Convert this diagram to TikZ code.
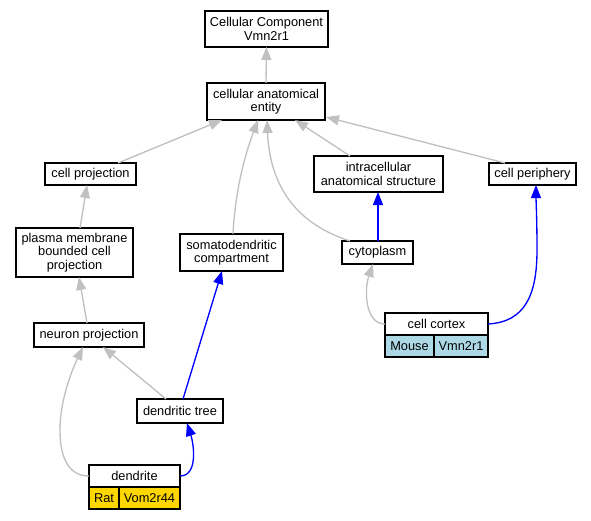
\documentclass[tikz,border=0pt]{standalone}
\usepackage{fontspec}
\setmainfont{Liberation Sans}
\usetikzlibrary{arrows.meta,calc}
\definecolor{edgegray}{RGB}{192,192,192}
\definecolor{edgeblue}{RGB}{0,0,255}
\definecolor{ratgold}{RGB}{255,215,0}
\definecolor{mouseblue}{RGB}{173,216,230}
\tikzset{
  box/.style={draw=black, line width=1pt, fill=white, inner sep=0pt, outer sep=0pt, align=center,
    font=\fontsize{9.6}{10.2}\selectfont},
  sz/.style 2 args={minimum width=#1*0.75pt, minimum height=#2*0.75pt},
  isa/.style={draw=edgegray, line width=1pt, -{Triangle[length=9.75pt,width=7.5pt]}},
  partof/.style={draw=edgeblue, line width=1pt, -{Triangle[length=9.75pt,width=7.5pt]}},
}
\begin{document}
\begin{tikzpicture}[x=0.75pt,y=-0.75pt]
\useasboundingbox (0,0) rectangle (591,520);
% nodes
\node[box, sz={123}{36}] (cc) at (266.5,29) {Cellular Component\\Vmn2r1};
\node[box, sz={118}{37}] (cae) at (266,101.5) {cellular anatomical\\entity};
\node[box, sz={91}{22}] (cp) at (90.5,174) {cell projection};
\node[box, sz={117}{49}] (pm) at (74.5,252.5) {plasma membrane\\bounded cell\\projection};
\node[box, sz={103}{37}] (sd) at (231.5,252.5) {somatodendritic\\compartment};
\node[box, sz={110}{24}] (np) at (89,335) {neuron projection};
\node[box, sz={86}{24}] (dt) at (180,411) {dendritic tree};
\node[box, sz={129}{36}] (ias) at (378.5,174) {intracellular\\anatomical structure};
\node[box, sz={87}{22}] (cper) at (532.5,174) {cell periphery};
\node[box, sz={71}{23}] (cyt) at (377.5,252.5) {cytoplasm};
% dendrite table
\node[box, sz={91}{22}] (dh) at (134.5,476) {dendrite};
\node[box, sz={30}{22}, fill=ratgold] (rat) at (104,498) {Rat};
\node[box, sz={61}{22}, fill=ratgold] (vom) at (149.5,498) {Vom2r44};
% cell cortex table
\node[box, sz={103}{22}] (ch) at (436.5,324) {cell cortex};
\node[box, sz={49}{22}, fill=mouseblue] (mouse) at (409.5,346) {Mouse};
\node[box, sz={54}{22}, fill=mouseblue] (vmn) at (461,346) {Vmn2r1};
% edges
\draw[isa] (cae.north) -- (cc.south);
\draw[isa] ($(cp.north)+(27.5,0)$) -- ($(cae.south)+(-44,0)$);
\draw[isa] ($(sd.north)+(1.5,0)$) .. controls (235,195) and (243,160) .. ($(cae.south)+(-8,0)$);
\draw[isa] ($(cyt.north)+(-27.5,0)$) .. controls (300,225) and (270,190) .. ($(cae.south)+(1,0)$);
\draw[isa] ($(ias.north)+(-28.5,0)$) -- ($(cae.south)+(29,0)$);
\draw[isa] ($(cper.north)+(-27.5,0)$) -- ($(cae.south east)+(1,-3)$);
\draw[isa] ($(pm.north)+(5.5,0)$) -- ($(cp.south)+(-3.5,0)$);
\draw[isa] ($(np.north)+(-2,0)$) -- ($(pm.south)+(4.5,0)$);
\draw[isa] ($(dt.north)+(-14,0)$) -- ($(np.south)+(14,0)$);
\draw[isa] (dh.west) .. controls (70,476) and (60,460) .. (60,430) .. controls (60,400) and (72,370) .. ($(np.south)+(-6,0)$);
\draw[partof] (dh.east) .. controls (198,476) and (194,445) .. ($(dt.south)+(7,0)$);
\draw[partof] ($(dt.north)+(3,0)$) -- ($(sd.south)+(-9.5,0)$);
\draw[partof] ($(cyt.north)+(0.5,0)$) -- ($(ias.south)+(-0.5,0)$);
\draw[isa] (ch.west) .. controls (365,324) and (364,290) .. ($(cyt.south)+(-4.5,0)$);
\draw[partof] (ch.east) .. controls (525,322) and (537,295) .. (537,250) .. controls (537,220) and (536,200) .. ($(cper.south)+(3.5,0)$);
\end{tikzpicture}
\end{document}
